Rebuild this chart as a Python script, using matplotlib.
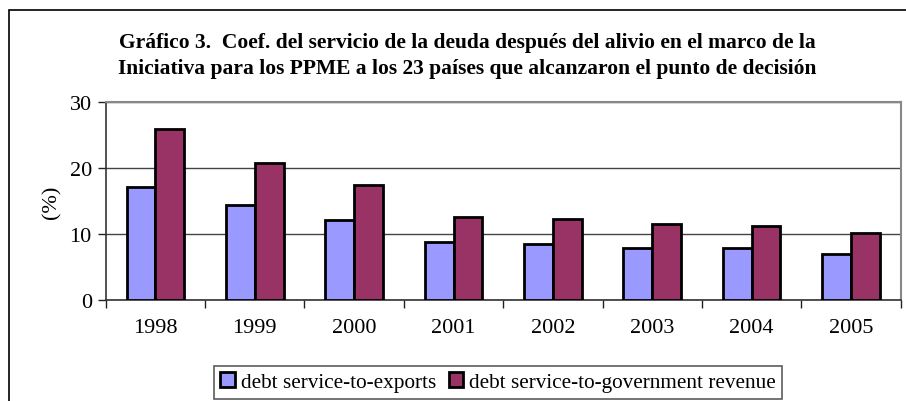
import numpy as np
import matplotlib.pyplot as plt
from matplotlib.patches import Rectangle

years = ['1998', '1999', '2000', '2001', '2002', '2003', '2004', '2005']
exports = [17.2, 14.4, 12.1, 8.7, 8.4, 7.9, 7.8, 7.0]
revenue = [26.0, 20.7, 17.5, 12.6, 12.2, 11.5, 11.2, 10.1]

plt.rcParams['font.family'] = ['Liberation Serif', 'DejaVu Serif']

fig = plt.figure(figsize=(9.06, 4.02), dpi=100)
ax = fig.add_axes([105.7/906, 1-300.7/402, (900.7-105.7)/906, (300.7-103.3)/402])

# outer chart frame (runs off the right and bottom edges)
fig.patches.append(Rectangle((9/906, -0.2), 1.2, 1.2 - 11/402, transform=fig.transFigure,
                             fill=False, edgecolor='black', linewidth=1.2))

x = np.arange(len(years))
w = 0.29
ax.bar(x - w/2, exports, w, color='#9999FF', edgecolor='black', linewidth=2,
       label='debt service-to-exports', zorder=3)
ax.bar(x + w/2, revenue, w, color='#993366', edgecolor='black', linewidth=2,
       label='debt service-to-government revenue', zorder=3)

ax.set_xlim(-0.5, 7.5)
ax.set_ylim(0, 30)
ax.set_yticks([0, 10, 20, 30])
ax.set_xticks(x)
ax.set_xticklabels(years)
ax.set_xticks(np.arange(-0.5, 8, 1), minor=True)
ax.tick_params(axis='x', which='major', length=0, pad=13, labelsize=16)
ax.tick_params(axis='x', which='minor', length=6, width=1, color='#222222', direction='out')
ax.tick_params(axis='y', length=6, width=1, color='#222222', direction='out', labelsize=16, pad=4)
ax.yaxis.grid(True, color='#444444', linewidth=1)
ax.set_axisbelow(True)

for s in ['left', 'bottom']:
    ax.spines[s].set_color('#333333')
    ax.spines[s].set_linewidth(1.2)
for s in ['top', 'right']:
    ax.spines[s].set_color('#888888')
    ax.spines[s].set_linewidth(1.5)

ax.set_ylabel('(%)', fontsize=16, labelpad=6)

fig.text(467/906, 1-43/402, 'Gráfico 3.  Coef. del servicio de la deuda después del alivio en el marco de la',
         ha='center', va='center', fontsize=15.5, fontweight='bold')
fig.text(467/906, 1-69/402, 'Iniciativa para los PPME a los 23 países que alcanzaron el punto de decisión',
         ha='center', va='center', fontsize=15.5, fontweight='bold')

leg = fig.legend(loc='upper left', bbox_to_anchor=(214/906, 1-367/402), ncol=2, fontsize=15.3,
                 frameon=True, fancybox=False, edgecolor='#333333', handlelength=0.7,
                 handleheight=0.7, handletextpad=0.25, columnspacing=0.6, borderpad=0.3,
                 borderaxespad=0)
leg.get_frame().set_linewidth(1.2)

fig.savefig('out.png', dpi=100)
